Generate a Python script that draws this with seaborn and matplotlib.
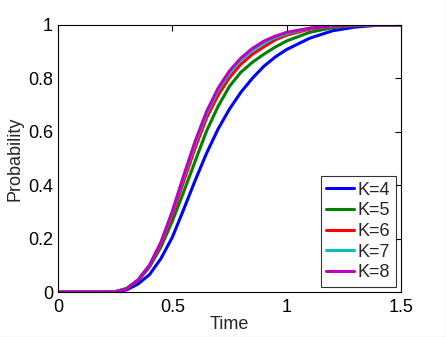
import numpy as np
import pandas as pd
import matplotlib
matplotlib.use("Agg")
import matplotlib.pyplot as plt
import seaborn as sns
from matplotlib.lines import Line2D

time = [0, 0.2, 0.25, 0.3, 0.35, 0.4, 0.45, 0.5, 0.55, 0.6, 0.65, 0.7, 0.75,
        0.8, 0.85, 0.9, 0.95, 1.0, 1.1, 1.2, 1.3, 1.4, 1.5]
k4 = [0, 0, 0, 0.008, 0.03, 0.065, 0.125, 0.205, 0.31, 0.418, 0.52, 0.61, 0.685,
      0.748, 0.80, 0.845, 0.88, 0.908, 0.95, 0.978, 0.992, 0.999, 1.0]
k5 = [0, 0, 0.002, 0.013, 0.042, 0.093, 0.168, 0.265, 0.375, 0.49, 0.603, 0.695, 0.77,
      0.823, 0.86, 0.89, 0.917, 0.94, 0.972, 0.99, 0.997, 1.0, 1.0]
k6 = [0, 0, 0, 0.013, 0.045, 0.097, 0.178, 0.288, 0.415, 0.54, 0.652, 0.737, 0.803,
      0.853, 0.89, 0.918, 0.944, 0.962, 0.984, 0.995, 0.999, 1.0, 1.0]
k7 = [0, 0, 0, 0.013, 0.046, 0.1, 0.184, 0.298, 0.43, 0.557, 0.668, 0.755, 0.82,
      0.869, 0.904, 0.932, 0.953, 0.968, 0.987, 0.996, 1.0, 1.0, 1.0]
k8 = [0, 0, 0, 0.012, 0.045, 0.1, 0.186, 0.302, 0.437, 0.565, 0.676, 0.763, 0.828,
      0.876, 0.912, 0.939, 0.958, 0.972, 0.988, 0.997, 1.0, 1.0, 1.0]
labels = ["K=4", "K=5", "K=6", "K=7", "K=8"]
series = [k4, k5, k6, k7, k8]
colors = [(0, 0, 1), (0, 0.5, 0), (1, 0, 0), (0, 0.75, 0.75), (0.75, 0, 0.75)]

df = pd.concat([pd.DataFrame({"Time": time, "Probability": s, "K": lab})
                for s, lab in zip(series, labels)], ignore_index=True)

sns.set_style("white")
plt.rcParams['font.family'] = ['Liberation Sans', 'DejaVu Sans']

fig = plt.figure(figsize=(4.46, 3.37), dpi=100)
ax = fig.add_axes([0.130, 0.1335, 0.769, 0.7925])
sns.lineplot(data=df, x="Time", y="Probability", hue="K", palette=colors,
             linewidth=2.2, ax=ax, sort=False)

ax.set_xlim(0, 1.5)
ax.set_ylim(0, 1)
ax.set_xticks([0, 0.5, 1, 1.5])
ax.set_xticklabels(["0", "0.5", "1", "1.5"])
ax.set_yticks([0, 0.2, 0.4, 0.6, 0.8, 1])
ax.set_yticklabels(["0", "0.2", "0.4", "0.6", "0.8", "1"])
ax.tick_params(direction="in", length=4, width=0.8, colors="black",
               labelsize=13, top=True, right=True)
ax.tick_params(axis="x", pad=5)
ax.tick_params(axis="y", pad=3.5)
for sp in ax.spines.values():
    sp.set_color("black")
    sp.set_linewidth(0.8)
ax.set_xlabel("Time", fontsize=13, labelpad=0)
ax.set_ylabel("Probability", fontsize=13, labelpad=3)

leg = ax.legend(loc="lower right", fontsize=13, frameon=True, fancybox=False,
                edgecolor="black", handlelength=1.55, handletextpad=0.17,
                labelspacing=0.2, borderpad=0.3, borderaxespad=0.3)
leg.get_frame().set_linewidth(0.8)

fig.add_artist(Line2D([0, 1], [0.5 / 337, 0.5 / 337], color="#a0a0a0", lw=0.8,
                      transform=fig.transFigure))
fig.add_artist(Line2D([1 - 0.5 / 446, 1 - 0.5 / 446], [0, 1], color="#a0a0a0", lw=0.8,
                      transform=fig.transFigure))

fig.savefig("out.png", dpi=100)
